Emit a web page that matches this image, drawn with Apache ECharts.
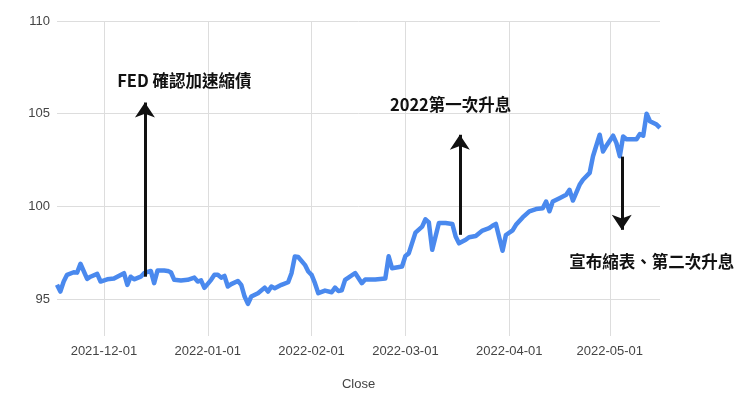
<!DOCTYPE html>
<html>
<head>
<meta charset="utf-8">
<script src="https://cdn.jsdelivr.net/npm/echarts@6/dist/echarts.min.js"></script>
<style>
html,body{margin:0;padding:0;background:#fff;}
#c{width:740px;height:410px;}
</style>
</head>
<body>
<div id="c"></div>
<script>
// ---- data ----
var dates = [
 '2021-11-17','2021-11-18','2021-11-19','2021-11-20','2021-11-22','2021-11-23','2021-11-24','2021-11-26','2021-11-27','2021-11-29','2021-11-30',
 '2021-12-02','2021-12-04','2021-12-05','2021-12-07','2021-12-08','2021-12-09','2021-12-10','2021-12-12','2021-12-13','2021-12-15','2021-12-16','2021-12-17','2021-12-19','2021-12-20','2021-12-21','2021-12-22','2021-12-24','2021-12-26','2021-12-28','2021-12-29','2021-12-30','2021-12-31',
 '2022-01-02','2022-01-03','2022-01-04','2022-01-05','2022-01-06','2022-01-07','2022-01-08','2022-01-10','2022-01-11','2022-01-12','2022-01-13','2022-01-14','2022-01-16','2022-01-18','2022-01-19','2022-01-20','2022-01-21','2022-01-23','2022-01-25','2022-01-26','2022-01-27','2022-01-28','2022-01-30','2022-01-31',
 '2022-02-01','2022-02-02','2022-02-03','2022-02-05','2022-02-07','2022-02-08','2022-02-09','2022-02-10','2022-02-11','2022-02-12','2022-02-14','2022-02-16','2022-02-17','2022-02-20','2022-02-23','2022-02-24','2022-02-25','2022-02-28',
 '2022-03-01','2022-03-02','2022-03-04','2022-03-06','2022-03-07','2022-03-08','2022-03-09','2022-03-11','2022-03-13','2022-03-15','2022-03-16','2022-03-17','2022-03-19','2022-03-20','2022-03-22','2022-03-23','2022-03-24','2022-03-26','2022-03-27','2022-03-28','2022-03-30','2022-03-31',
 '2022-04-02','2022-04-03','2022-04-05','2022-04-07','2022-04-09','2022-04-11','2022-04-12','2022-04-13','2022-04-14','2022-04-16','2022-04-18','2022-04-19','2022-04-20','2022-04-22','2022-04-23','2022-04-25','2022-04-26','2022-04-28','2022-04-29','2022-04-30',
 '2022-05-02','2022-05-03','2022-05-04','2022-05-05','2022-05-06','2022-05-08','2022-05-09','2022-05-10','2022-05-11','2022-05-12','2022-05-13','2022-05-15','2022-05-16'
];
var closeValues = [
 95.76,95.4,95.94,96.3,96.44,96.42,96.9,96.08,96.2,96.35,95.94,
 96.06,96.1,96.2,96.39,95.76,96.2,96.06,96.2,96.39,96.51,95.85,96.53,96.53,96.51,96.44,96.03,95.99,96.03,96.15,95.94,96.0,95.6,
 96.03,96.3,96.3,96.15,96.24,95.67,95.8,95.97,95.76,95.13,94.73,95.13,95.31,95.61,95.4,95.67,95.58,95.76,95.9,96.39,97.29,97.26,96.84,96.48,
 96.3,95.85,95.31,95.45,95.36,95.61,95.43,95.47,96.03,96.15,96.4,95.85,96.05,96.05,96.1,97.3,96.66,96.75,
 97.32,97.46,98.58,98.9,99.3,99.13,97.65,99.1,99.1,99.05,98.37,98.0,98.19,98.33,98.4,98.55,98.69,98.82,98.95,99.05,97.6,98.45,
 98.7,99.0,99.4,99.73,99.85,99.9,100.26,99.73,100.26,100.44,100.62,100.89,100.31,101.16,101.43,101.8,102.7,103.86,102.96,103.27,
 103.81,103.41,102.7,103.77,103.62,103.62,103.62,103.9,103.81,105.0,104.59,104.41,104.23
];
var yTicks = [95, 100, 105, 110];
var xTicks = ['2021-12-01','2022-01-01','2022-02-01','2022-03-01','2022-04-01','2022-05-01'];
var annotationTexts = ['FED 確認加速縮債', '2022第一次升息', '宣布縮表、第二次升息'];
var arrowDates = ['2021-12-13 06:00', '2022-03-17 06:00', '2022-05-04 14:00'];
var arrowFrom = [96.2, 98.46, 102.68];
var arrowTo = [105.6, 103.86, 98.73];
var textDates = ['2021-12-25', '2022-03-14 12:00', '2022-05-13 12:00'];
var textValues = [106.78, 105.49, 97.0];

function ts(s){ return new Date(s.replace(' ', 'T') + (s.length > 10 ? ':00' : 'T00:00:00')).getTime(); }
function pad(n){ return (n < 10 ? '0' : '') + n; }

var seriesData = dates.map(function(d, i){ return [ts(d), closeValues[i]]; });
var xTickTs = xTicks.map(ts);

var markLines = arrowDates.map(function(d, i){
  return [{coord:[ts(d), arrowFrom[i]]}, {coord:[ts(d), arrowTo[i]]}];
});
var markPoints = textDates.map(function(d, i){
  return {coord:[ts(d), textValues[i]], value: annotationTexts[i]};
});

var chart = echarts.init(document.getElementById('c'), null, {renderer:'canvas'});
chart.setOption({
  animation:false,
  backgroundColor:'#ffffff',
  grid:{left:57, right:80, top:21, bottom:74},
  xAxis:{
    type:'value',
    scale:true,
    min: seriesData[0][0],
    max: seriesData[seriesData.length-1][0],
    name:'Close',
    nameLocation:'middle',
    nameGap:42,
    nameTextStyle:{color:'#444', fontSize:13, fontFamily:'Liberation Sans, Arial, sans-serif'},
    axisLine:{show:false},
    axisTick:{show:false, customValues: xTickTs},
    axisLabel:{
      customValues: xTickTs,
      color:'#444', fontSize:13, margin:9,
      fontFamily:'Liberation Sans, Arial, sans-serif',
      formatter:function(v){ var d=new Date(v); return d.getFullYear()+'-'+pad(d.getMonth()+1)+'-'+pad(d.getDate()); }
    },
    splitLine:{show:true, lineStyle:{color:'#dddddd', width:1}}
  },
  yAxis:{
    type:'value',
    min:93, max:110,
    axisLine:{show:false},
    axisTick:{show:false, customValues: yTicks},
    axisLabel:{customValues: yTicks, color:'#444', fontSize:13, margin:7, fontFamily:'Liberation Sans, Arial, sans-serif'},
    splitLine:{show:true, lineStyle:{color:'#dddddd', width:1}}
  },
  series:[{
    type:'line',
    data: seriesData,
    showSymbol:false,
    symbol:'none',
    clip:false,
    lineStyle:{color:'#4a89ee', width:4.5, join:'round'},
    markLine:{
      silent:true,
      symbol:['none','arrow'],
      symbolSize:15,
      label:{show:false},
      lineStyle:{color:'#111111', width:3, type:'solid'},
      data: markLines
    },
    markPoint:{
      silent:true,
      symbol:'circle',
      symbolSize:1,
      itemStyle:{color:'rgba(0,0,0,0)'},
      label:{
        show:true, position:'inside',
        formatter:function(p){ return p.value; },
        color:'#111', fontSize:16.5, fontWeight:'bold',
        fontFamily:'"Noto Sans CJK TC", "Noto Sans", sans-serif'
      },
      data: markPoints
    }
  }]
});
</script>
</body>
</html>
